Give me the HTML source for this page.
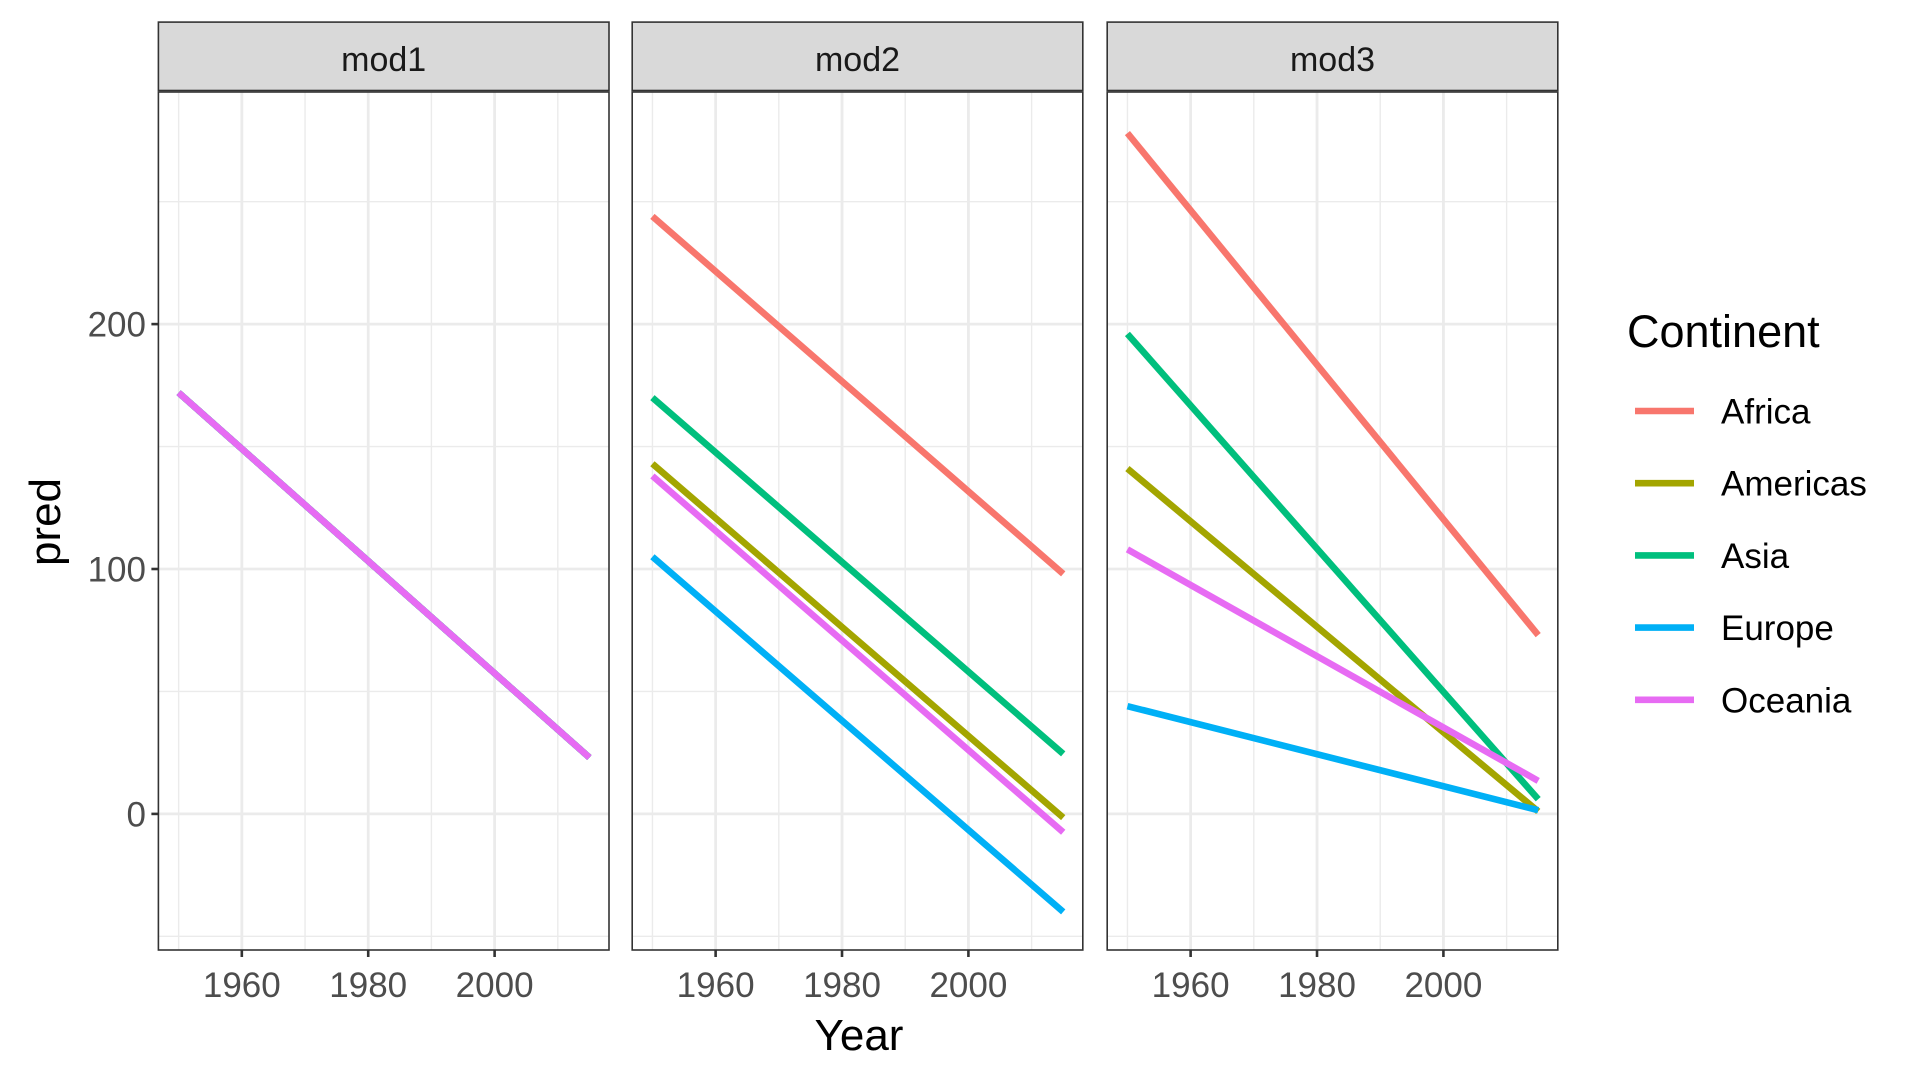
<!DOCTYPE html>
<html><head><meta charset="utf-8"><style>
body{margin:0;background:#fff;}
svg{display:block;font-family:"Liberation Sans",sans-serif;}
</style></head><body>
<svg id="chart" width="1920" height="1080"></svg>
<script>
const panels = ["mod1","mod2","mod3"];
const continents = ["Africa","Americas","Asia","Europe","Oceania"];
const colors = ["#F8766D","#A3A500","#00BF7D","#00B0F6","#E76BF3"];
const years = [1950, 2015];
const mod1Start = [172,172,172,172,172];
const mod1End = [23,23,23,23,23];
const mod2Start = [244,143,170,105,138];
const mod2End = [98,-1.5,24.5,-40,-7.5];
const mod3Start = [278,141,196,44,108];
const mod3End = [73,1,6,1.5,13.5];
const yTicks = [0,100,200];
const yMinor = [-50,50,150,250];
const xTicks = [1960,1980,2000];
const xMinor = [1950,1970,1990,2010];

const NS="http://www.w3.org/2000/svg";
const svg=document.getElementById('chart');
function mk(tag,attrs,parent){const e=document.createElementNS(NS,tag);for(const k in attrs)e.setAttribute(k,attrs[k]);(parent||svg).appendChild(e);return e;}
const panelLeft=[158.4,632.2,1107.2];
const panelW=450.6, plotTop=92, plotBot=950, stripTop=22.1;
const xMin=1946.8, xMax=2018.1;
function xs(p,v){return panelLeft[p]+(v-xMin)/(xMax-xMin)*panelW;}
function ys(v){return 813.9-v*2.449;}
const starts=[mod1Start,mod2Start,mod3Start], ends=[mod1End,mod2End,mod3End];

panels.forEach((name,p)=>{
  const g=mk('g',{});
  
  
  const L=panelLeft[p];
  mk('rect',{x:L,y:plotTop,width:panelW,height:plotBot-plotTop,fill:'#fff'},g);
  yMinor.forEach(v=>mk('line',{x1:L,x2:L+panelW,y1:ys(v),y2:ys(v),stroke:'#EBEBEB','stroke-width':1.4},g));
  xMinor.forEach(v=>mk('line',{x1:xs(p,v),x2:xs(p,v),y1:plotTop,y2:plotBot,stroke:'#EBEBEB','stroke-width':1.4},g));
  yTicks.forEach(v=>mk('line',{x1:L,x2:L+panelW,y1:ys(v),y2:ys(v),stroke:'#EBEBEB','stroke-width':2.8},g));
  xTicks.forEach(v=>{
    mk('line',{x1:xs(p,v),x2:xs(p,v),y1:plotTop,y2:plotBot,stroke:'#EBEBEB','stroke-width':2.8},g);
    mk('line',{x1:xs(p,v),x2:xs(p,v),y1:plotBot,y2:plotBot+7,stroke:'#333','stroke-width':2.6},g);
    const t=mk('text',{x:xs(p,v),y:997,'text-anchor':'middle','font-size':35,fill:'#4D4D4D'},g);
    t.textContent=v;
    
    
  });
  continents.forEach((c,i)=>{
    const l=mk('line',{x1:xs(p,years[0]),y1:ys(starts[p][i]),x2:xs(p,years[1]),y2:ys(ends[p][i]),stroke:colors[i],'stroke-width':6.6},g);
    
    
  });
  mk('rect',{x:L,y:plotTop,width:panelW,height:plotBot-plotTop,fill:'none',stroke:'#333','stroke-width':1.6},g);
  const s=mk('rect',{x:L,y:stripTop,width:panelW,height:plotTop-stripTop-1.5,fill:'#D9D9D9',stroke:'#333','stroke-width':1.6},g);
  
  
  const st=mk('text',{x:L+panelW/2,y:71,'text-anchor':'middle','font-size':34,fill:'#1A1A1A'},g);
  st.textContent=name;
  
  
});
yTicks.forEach(v=>{
  mk('line',{x1:151.4,x2:158.4,y1:ys(v),y2:ys(v),stroke:'#333','stroke-width':2.6});
  const t=mk('text',{x:146,y:ys(v)+12.5,'text-anchor':'end','font-size':35,fill:'#4D4D4D'});
  t.textContent=v;
  
  
});
const xt=mk('text',{x:859,y:1050,'text-anchor':'middle','font-size':44,fill:'#000'});
xt.textContent='Year';


const yt=mk('text',{x:0,y:0,'text-anchor':'middle','font-size':44,fill:'#000',transform:'translate(60,522) rotate(-90)'});
yt.textContent='pred';


const lg=mk('g',{});


const lt=mk('text',{x:1627,y:347,'font-size':45,fill:'#000'},lg);
lt.textContent='Continent';


continents.forEach((c,i)=>{
  const y=411+i*72.2;
  const e=mk('g',{},lg);
  
  
  mk('line',{x1:1635,x2:1694,y1:y,y2:y,stroke:colors[i],'stroke-width':6.6},e);
  const t=mk('text',{x:1721,y:y+12.5,'font-size':35,fill:'#000'},e);
  t.textContent=c;
});
</script>
</body></html>
